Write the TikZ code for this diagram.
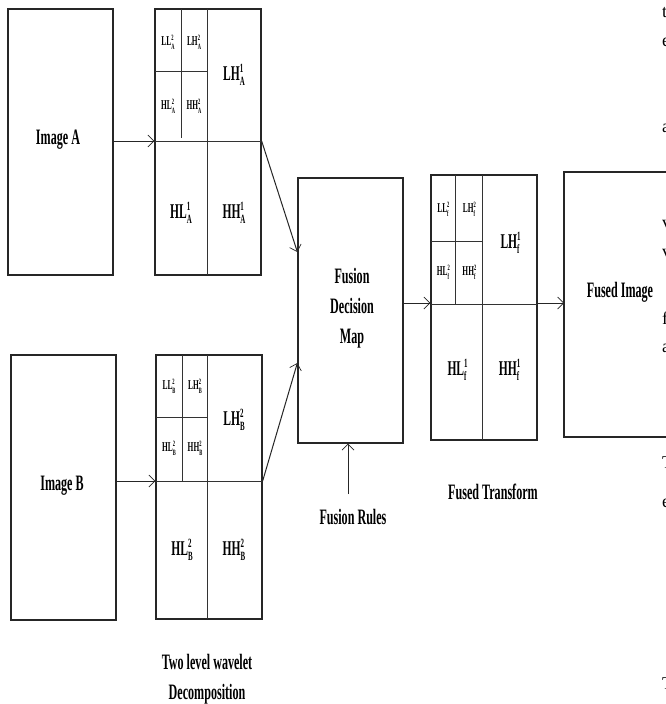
\documentclass[tikz,border=0pt]{standalone}
\usepackage{fontspec}
\setmainfont{Liberation Serif}
\newfontfamily\cond[FakeStretch=0.55]{Liberation Serif}
\usetikzlibrary{arrows.meta}
\newcommand\wlab[4]{{\fontsize{#4}{#4}\selectfont\cond\bfseries #1\rlap{\raisebox{0.40em}{\fontsize{0.6\dimexpr#4pt\relax}{1}\selectfont #2}}\raisebox{-0.25em}{\fontsize{0.6\dimexpr#4pt\relax}{1}\selectfont #3}}}
\begin{document}
\begin{tikzpicture}[x=1pt,y=-1pt,
  box/.style={draw=black!85, line width=1.3pt, rectangle, inner sep=0pt},
  cellline/.style={draw=black!80, line width=1pt},
  conn/.style={draw=black!85, line width=1pt, -{Straight Barb[length=6pt,width=12pt,line width=0.7pt]}},
  lbl/.style={inner sep=0pt, font=\fontsize{22}{30}\selectfont\cond\bfseries, align=center},
  edge/.style={inner sep=0pt, anchor=west, font=\fontsize{18}{18}\selectfont}]
\useasboundingbox (0,0) rectangle (666,704);
\fill[white] (0,0) rectangle (666,704);

% Image boxes
\node[box, minimum width=105pt, minimum height=266pt] (ia) at (60.5,142) {};
\node[lbl, anchor=base] (ta) at (58,144) {Image A};
\node[box, minimum width=105pt, minimum height=265pt] (ib) at (63.5,487.5) {};
\node[lbl, anchor=base] (tb) at (62,490) {Image B};

% Wavelet A
\node[box, minimum width=106pt, minimum height=266pt] (wa) at (208,142) {};
\draw[cellline] (155,141) -- (261,141);
\draw[cellline] (207,9) -- (207,275);
\draw[cellline] (181,9) -- (181,138);
\draw[cellline] (155,71) -- (207,71);
\node[inner sep=0pt] (a1) at (168,42) {\wlab{LL}{2}{A}{13.5}};
\node[inner sep=0pt] (a2) at (194,42) {\wlab{LH}{2}{A}{13.5}};
\node[inner sep=0pt] (a3) at (168,106) {\wlab{HL}{2}{A}{13.5}};
\node[inner sep=0pt] (a4) at (194,106) {\wlab{HH}{2}{A}{13.5}};
\node[inner sep=0pt] (a5) at (234,75) {\wlab{LH}{1}{A}{21}};
\node[inner sep=0pt] (a6) at (181,213) {\wlab{HL}{1}{A}{21}};
\node[inner sep=0pt] (a7) at (234,213) {\wlab{HH}{1}{A}{21}};

% Wavelet B
\node[box, minimum width=106pt, minimum height=264pt] (wb) at (209,487) {};
\draw[cellline] (156,481) -- (262,481);
\draw[cellline] (207,355) -- (207,619);
\draw[cellline] (182,355) -- (182,481);
\draw[cellline] (156,417) -- (207,417);
\node[inner sep=0pt] (b1) at (169,386) {\wlab{LL}{2}{B}{13.5}};
\node[inner sep=0pt] (b2) at (195,386) {\wlab{LH}{2}{B}{13.5}};
\node[inner sep=0pt] (b3) at (169,448) {\wlab{HL}{2}{B}{13.5}};
\node[inner sep=0pt] (b4) at (195,448) {\wlab{HH}{2}{B}{13.5}};
\node[inner sep=0pt] (b5) at (234,420) {\wlab{LH}{2}{B}{21}};
\node[inner sep=0pt] (b6) at (182,550) {\wlab{HL}{2}{B}{21}};
\node[inner sep=0pt] (b7) at (234,550) {\wlab{HH}{2}{B}{21}};

% Decision map
\node[box, minimum width=105pt, minimum height=265pt] (dm) at (350.5,310.5) {};
\node[lbl, anchor=center] (tdm) at (352,308) {Fusion\\Decision\\Map};

% Fused transform
\node[box, minimum width=106pt, minimum height=265pt] (ft) at (484,307.5) {};
\draw[cellline] (431,304) -- (537,304);
\draw[cellline] (482,175) -- (482,440);
\draw[cellline] (455,175) -- (455,304);
\draw[cellline] (431,241) -- (482,241);
\node[inner sep=0pt] (f1) at (443,209) {\wlab{LL}{2}{f}{13.5}};
\node[inner sep=0pt] (f2) at (469,209) {\wlab{LH}{2}{f}{13.5}};
\node[inner sep=0pt] (f3) at (443,272) {\wlab{HL}{2}{f}{13.5}};
\node[inner sep=0pt] (f4) at (469,272) {\wlab{HH}{2}{f}{13.5}};
\node[inner sep=0pt] (f5) at (510,243) {\wlab{LH}{1}{f}{21}};
\node[inner sep=0pt] (f6) at (457,370) {\wlab{HL}{1}{f}{21}};
\node[inner sep=0pt] (f7) at (509,370) {\wlab{HH}{1}{f}{21}};

% Fused image (cut at right edge)
\draw[box] (700,172) -- (564,172) -- (564,437) -- (700,437);
\coordinate (fi) at (564,303);
\node[lbl, anchor=base] (tfi) at (620,297) {Fused Image};

% Labels
\node[lbl] (rules) at (353,517) {Fusion Rules};
\coordinate (rs) at (348,494);
\node[lbl] (trans) at (493,492) {Fused Transform};
\node[lbl] (two) at (207,679) {Two level wavelet\\Decomposition};

% Connectors
\draw[conn] (ia.east |- 0,141) -- (wa.west |- 0,141);
\draw[conn] (ib.east |- 0,481) -- (wb.west |- 0,481);
\draw[conn] (wa.east |- 0,141) -- (dm.west |- 0,252);
\draw[conn] (wb.east |- 0,481) -- (dm.west |- 0,363);
\draw[conn] (dm.east |- 0,303) -- (ft.west |- 0,303);
\draw[conn] (ft.east |- 0,303) -- (fi);
\draw[conn] (rs) -- (dm.south -| rs);

% Cut-off text at the right edge
\node[edge] (e1) at (662,13) {t};
\node[edge] (e2) at (662,42) {e};
\node[edge] (e3) at (662,128) {a};
\node[edge] (e4) at (662,224) {v};
\node[edge] (e5) at (662,253) {v};
\node[edge] (e6) at (662,318) {f};
\node[edge] (e7) at (662,348) {a};
\node[edge] (e8) at (662,463) {T};
\node[edge] (e9) at (662,503) {e};
\node[edge] (e10) at (662,684) {T};
\end{tikzpicture}
\end{document}
